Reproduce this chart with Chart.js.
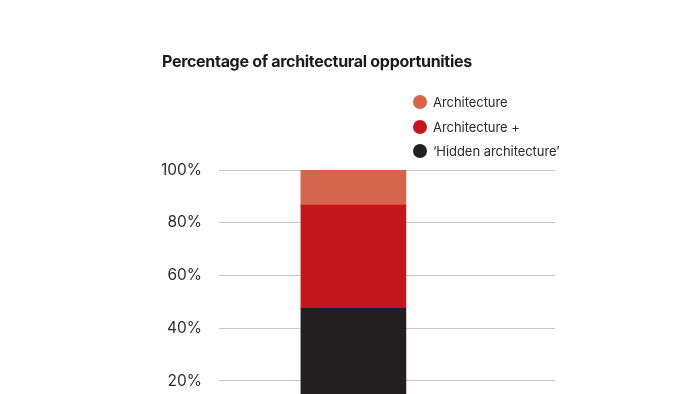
<!DOCTYPE html>
<html>
<head>
<meta charset="utf-8">
<script src="https://cdn.jsdelivr.net/npm/chart.js@4/dist/chart.umd.min.js"></script>
<style>
  html, body { margin: 0; padding: 0; background: #fff; overflow: hidden; width: 700px; height: 394px; }
  #wrap { position: absolute; left: 0; top: 0; width: 700px; height: 460px; }
  #title { position: absolute; left: 162px; top: 51px; font-family: "Inter", "Liberation Sans", sans-serif; font-weight: 650; font-size: 16px; letter-spacing: -0.3px; color: #1a1a1a; white-space: nowrap; }
  #legend { position: absolute; left: 413px; top: 93px; font-family: "Inter", "Liberation Sans", sans-serif; font-size: 13px; color: #2a2a2a; }
  .item { position: relative; height: 24.5px; white-space: nowrap; }
  .dot { position: absolute; left: 0; top: 2px; width: 14px; height: 14px; border-radius: 50%; }
  .lab { position: absolute; left: 20px; top: 0px; line-height: 18px; letter-spacing: -0.05px; }
</style>
</head>
<body>
<div id="wrap"><canvas id="c" width="700" height="460"></canvas></div>
<div id="title">Percentage of architectural opportunities</div>
<div id="legend"></div>
<script>
// Data
const categories = ['', '', 'Opportunities', '', '', ''];
const hiddenArchitecture = [null, null, 47.5, null, null, null];
const architecturePlus = [null, null, 39.2, null, null, null];
const architecture = [null, null, 13.3, null, null, null];
const seriesNames = ['Architecture', 'Architecture +', '\u2018Hidden architecture\u2019'];
const tickValues = [0, 20, 40, 60, 80, 100];

const colors = { arch: '#d4654b', plus: '#c3171e', hidden: '#231f20' };

const datasets = [
  { label: seriesNames[2], data: hiddenArchitecture, backgroundColor: colors.hidden },
  { label: seriesNames[1], data: architecturePlus, backgroundColor: colors.plus },
  { label: seriesNames[0], data: architecture, backgroundColor: colors.arch }
];

// HTML legend from series
const legendOrder = [
  { name: seriesNames[0], color: colors.arch },
  { name: seriesNames[1], color: colors.plus },
  { name: seriesNames[2], color: colors.hidden }
];
const lg = document.getElementById('legend');
legendOrder.forEach(s => {
  const d = document.createElement('div'); d.className = 'item';
  d.innerHTML = '<span class="dot" style="background:' + s.color + '"></span><span class="lab"></span>';
  d.querySelector('.lab').textContent = s.name;
  lg.appendChild(d);
});

new Chart(document.getElementById('c'), {
  type: 'bar',
  data: { labels: categories, datasets: datasets },
  options: {
    responsive: false,
    animation: false,
    layout: { padding: { left: 0, right: 145, top: 170, bottom: 26.3 } },
    plugins: { legend: { display: false }, tooltip: { enabled: false } },
    datasets: { bar: { barThickness: 105, borderWidth: 0 } },
    scales: {
      x: { stacked: true, display: false, offset: false, grid: { display: false } },
      y: {
        stacked: true, min: 0, max: 100,
        afterFit: s => { s.width = 219; },
        afterBuildTicks: s => { s.ticks = tickValues.map(v => ({ value: v })); },
        border: { display: false },
        grid: { color: '#c8c8c8', lineWidth: 1, drawTicks: false },
        ticks: {
          padding: 17,
          color: '#2e2e2e',
          font: { family: 'Inter, "Liberation Sans", sans-serif', size: 15.5 },
          callback: v => v + '%'
        }
      }
    }
  }
});
</script>
</body>
</html>
